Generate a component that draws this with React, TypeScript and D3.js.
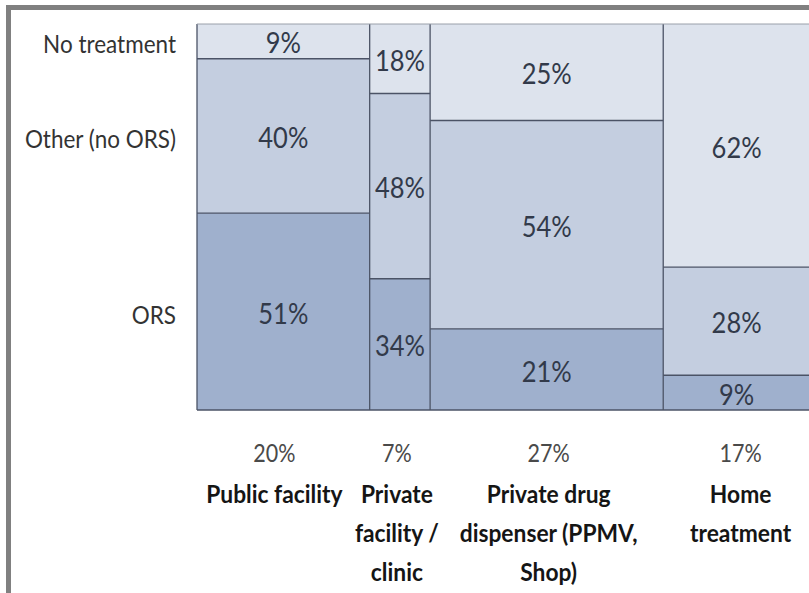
import React from "react";
import * as d3 from "d3";

// Mosaic of treatment type by source of care
const sourceNames = ["Public facility", "Private facility / clinic", "Private drug dispenser (PPMV, Shop)", "Home treatment"];
const sourceLines = [["Public facility"], ["Private", "facility /", "clinic"], ["Private drug", "dispenser (PPMV,", "Shop)"], ["Home", "treatment"]];
const sourceShare = [20, 7, 27, 17];

const treatmentNames = ["ORS", "Other (no ORS)", "No treatment"];
const orsValues = [51, 34, 21, 9];
const otherValues = [40, 48, 54, 28];
const noTreatmentValues = [9, 18, 25, 62];

const W = 809;
const H = 593;
const plot = { left: 197, top: 24, right: 810, bottom: 410 };
const fills = ["#9fb0cd", "#c4cee0", "#dde3ed"];
const lineColor = "#4b5366";
const FONT = "Lato, 'Open Sans', sans-serif";
const SY = 1.12; // vertical stretch of glyphs
const columnLabelShift = [-9, -3, 2, 4]; // hand placement of the text boxes under each column

type Row = { source: string; ORS: number; "Other (no ORS)": number; "No treatment": number };

const rows: Row[] = sourceNames.map((s, i) => ({
  source: s,
  ORS: orsValues[i],
  "Other (no ORS)": otherValues[i],
  "No treatment": noTreatmentValues[i],
}));

const totalShare = d3.sum(sourceShare);
const x = d3.scaleLinear().domain([0, totalShare]).range([plot.left, plot.right]);
const y = d3.scaleLinear().domain([0, 100]).range([plot.bottom, plot.top]);

const starts = sourceShare.map((_, i) => d3.sum(sourceShare.slice(0, i)));
const stacked = d3.stack<Row>().keys(treatmentNames)(rows);
const lastLayer = stacked.length - 1;

function Txt(props: { x: number; y: number; size: number; weight?: number; fill: string; anchor?: string; children: React.ReactNode }) {
  return (
    <text
      transform={`translate(${props.x},${props.y}) scale(1,${SY})`}
      fontFamily={FONT}
      fontSize={props.size}
      fontWeight={props.weight ?? 400}
      fill={props.fill}
      textAnchor={props.anchor ?? "middle"}
      dominantBaseline="central"
    >
      {props.children}
    </text>
  );
}

export default function App() {
  const colX0 = (i: number) => x(starts[i]);
  const colX1 = (i: number) => x(starts[i] + sourceShare[i]);
  const colMid = (i: number) => (colX0(i) + colX1(i)) / 2;
  // the top band runs up to the plot edge
  const bandTop = (k: number, d: d3.SeriesPoint<Row>) => (k === lastLayer ? plot.top : y(d[1]));

  return (
    <svg width={W} height={H} style={{ position: "absolute", left: 0, top: 0, background: "#fff" }}>
      <rect x={8.5} y={7.5} width={W + 40} height={H + 40} fill="none" stroke="#808080" strokeWidth={5} />

      {stacked.map((layer, k) =>
        layer.map((d, i) => (
          <rect
            key={`${k}-${i}`}
            x={colX0(i)}
            y={bandTop(k, d)}
            width={colX1(i) - colX0(i)}
            height={y(d[0]) - bandTop(k, d)}
            fill={fills[k]}
          />
        ))
      )}

      {/* boundaries between bands */}
      {stacked.slice(0, -1).map((layer, k) =>
        layer.map((d, i) => (
          <line key={`h${k}-${i}`} x1={colX0(i)} x2={colX1(i)} y1={y(d[1])} y2={y(d[1])} stroke={lineColor} strokeWidth={1.3} />
        ))
      )}
      {sourceShare.map((_, i) => (
        <line key={`v${i}`} x1={colX0(i)} x2={colX0(i)} y1={plot.top} y2={plot.bottom} stroke={lineColor} strokeWidth={1.3} />
      ))}
      <line x1={plot.left} x2={plot.right} y1={plot.top} y2={plot.top} stroke="#9aa0aa" strokeWidth={1} />
      <line x1={plot.left} x2={plot.right} y1={plot.bottom} y2={plot.bottom} stroke={lineColor} strokeWidth={1.3} />

      {/* value labels */}
      {stacked.map((layer, k) =>
        layer.map((d, i) => (
          <Txt key={`t${k}-${i}`} x={colMid(i)} y={(y(d[0]) + bandTop(k, d)) / 2 + 1} size={25.5} fill="#323a4a">
            {`${d.data[treatmentNames[k] as keyof Row]}%`}
          </Txt>
        ))
      )}

      {/* row labels beside the first column */}
      {stacked.map((layer, k) => {
        const d = layer[0];
        return (
          <Txt key={`r${k}`} x={176} y={(y(d[0]) + y(d[1])) / 2 + 2} size={22.5} fill="#333" anchor="end">
            {treatmentNames[k]}
          </Txt>
        );
      })}

      {/* column labels */}
      {sourceShare.map((s, i) => {
        const cx = colMid(i) + columnLabelShift[i];
        return (
          <g key={`c${i}`}>
            <Txt x={cx} y={453} size={21.5} fill="#4a4a4a">{`${s}%`}</Txt>
            {sourceLines[i].map((line, j) => (
              <Txt key={j} x={cx} y={493 + j * 39} size={22.8} weight={700} fill="#151515">
                {line}
              </Txt>
            ))}
          </g>
        );
      })}
    </svg>
  );
}
